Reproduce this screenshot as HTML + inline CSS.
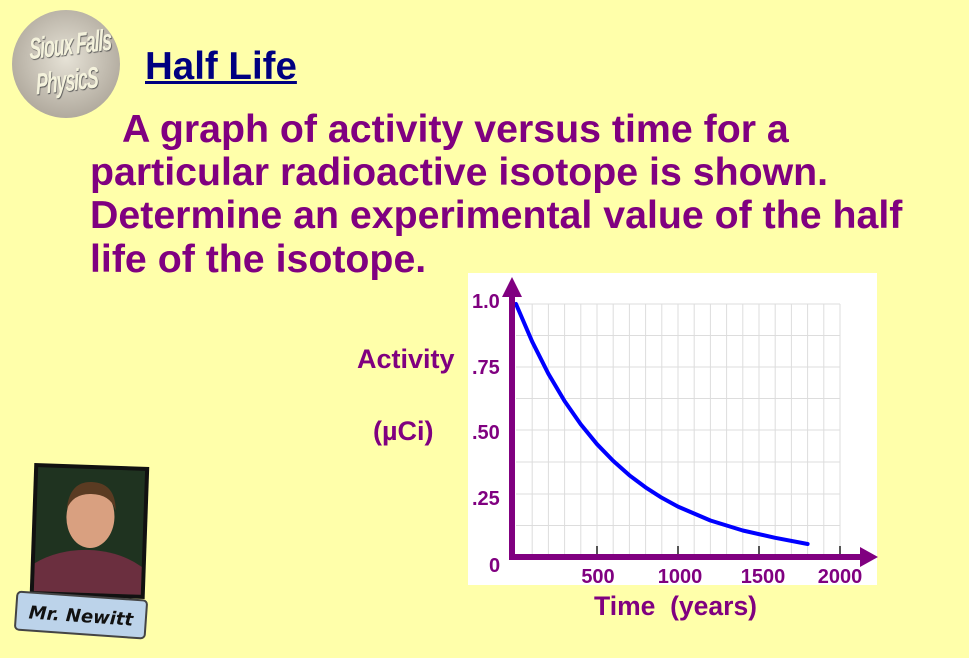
<!DOCTYPE html>
<html><head><meta charset="utf-8"><style>
body{margin:0;width:969px;height:658px;background:#FFFFAA;position:relative;overflow:hidden;font-family:"Liberation Sans",Arial,sans-serif;font-weight:bold}
.t{position:absolute;color:#800080;font-size:39.3px;white-space:nowrap;line-height:1}
</style></head><body>
<div style="position:absolute;left:12px;top:10px;width:108px;height:108px;border-radius:50%;background:radial-gradient(circle at 50% 45%,#e6e2d6,#9e968a);"></div>
<div style="position:absolute;left:6px;top:28px;width:120px;text-align:center;color:#f4f2dc;font-size:30px;line-height:36px;font-style:italic;text-shadow:1px 1px 1px #555;letter-spacing:-2px;transform:scaleX(0.6) rotate(-4deg);white-space:nowrap">Sioux Falls<br>PhysicS</div>
<div style="position:absolute;left:145px;top:46px;color:#000080;font-size:38.5px;text-decoration:underline;line-height:1.1">Half Life</div>
<div class="t" style="left:122px;top:110px">A graph of activity versus time for a</div>
<div class="t" style="left:90px;top:153px">particular radioactive isotope is shown.</div>
<div class="t" style="left:90px;top:196px">Determine an experimental value of the half</div>
<div class="t" style="left:90px;top:240px">life of the isotope.</div>
<div class="t" style="left:357px;top:346px;font-size:27px">Activity</div>
<div class="t" style="left:373px;top:418px;font-size:27px">(µCi)</div>
<div class="t" style="left:594px;top:593px;font-size:26.5px">Time&nbsp; (years)</div>
<svg style="position:absolute;left:0;top:0" width="969" height="658">
<rect x="468" y="273" width="409" height="312" fill="#fff"/>
<g stroke="#ddd" stroke-width="1">
<line x1="516" y1="304" x2="840" y2="304"/><line x1="516" y1="335.5" x2="840" y2="335.5"/><line x1="516" y1="367" x2="840" y2="367"/><line x1="516" y1="398.5" x2="840" y2="398.5"/><line x1="516" y1="430" x2="840" y2="430"/><line x1="516" y1="462" x2="840" y2="462"/><line x1="516" y1="494" x2="840" y2="494"/><line x1="516" y1="525.5" x2="840" y2="525.5"/>
<line x1="532.2" y1="304" x2="532.2" y2="557"/><line x1="548.4" y1="304" x2="548.4" y2="557"/><line x1="564.6" y1="304" x2="564.6" y2="557"/><line x1="580.8" y1="304" x2="580.8" y2="557"/><line x1="597" y1="304" x2="597" y2="557"/><line x1="613.2" y1="304" x2="613.2" y2="557"/><line x1="629.4" y1="304" x2="629.4" y2="557"/><line x1="645.6" y1="304" x2="645.6" y2="557"/><line x1="661.8" y1="304" x2="661.8" y2="557"/><line x1="678" y1="304" x2="678" y2="557"/><line x1="694.2" y1="304" x2="694.2" y2="557"/><line x1="710.4" y1="304" x2="710.4" y2="557"/><line x1="726.6" y1="304" x2="726.6" y2="557"/><line x1="742.8" y1="304" x2="742.8" y2="557"/><line x1="759" y1="304" x2="759" y2="557"/><line x1="775.2" y1="304" x2="775.2" y2="557"/><line x1="791.4" y1="304" x2="791.4" y2="557"/><line x1="807.6" y1="304" x2="807.6" y2="557"/><line x1="823.8" y1="304" x2="823.8" y2="557"/><line x1="840" y1="304" x2="840" y2="557"/>
</g>
<g stroke="#555" stroke-width="2"><line x1="597" y1="546" x2="597" y2="557"/><line x1="678" y1="546" x2="678" y2="557"/><line x1="759" y1="546" x2="759" y2="557"/><line x1="840" y1="546" x2="840" y2="557"/></g>
<polyline fill="none" stroke="#0000ff" stroke-width="4" stroke-linecap="round" stroke-linejoin="round" points="516,304 532.2,341.7 548.4,373.8 564.6,401.1 580.8,424.4 597,444.2 613.2,460.9 629.4,475.3 645.6,487.4 661.8,497.8 678,506.6 710.4,520.5 742.8,530.5 775.2,537.8 807.6,544"/>
<line x1="512" y1="292" x2="512" y2="559" stroke="#800080" stroke-width="6"/>
<line x1="509" y1="557" x2="866" y2="557" stroke="#800080" stroke-width="6"/>
<polygon points="512,277 502,297 522,297" fill="#800080"/>
<polygon points="878,557 860,547 860,567" fill="#800080"/>
<g fill="#800080" font-family="Liberation Sans,Arial,sans-serif" font-weight="bold" font-size="20">
<text x="472" y="308">1.0</text><text x="472" y="374">.75</text><text x="472" y="439">.50</text><text x="472" y="505">.25</text><text x="489" y="572">0</text>
<text x="598" y="583" text-anchor="middle">500</text><text x="680" y="583" text-anchor="middle">1000</text><text x="763" y="583" text-anchor="middle">1500</text><text x="840" y="583" text-anchor="middle">2000</text>
</g>
<g transform="rotate(2 90 530)">
<rect x="32" y="465" width="115" height="132" fill="#111"/>
<rect x="36" y="469" width="107" height="124" fill="#1f3320"/>
<path d="M36 593 L36 565 Q60 550 90 550 Q120 550 143 565 L143 593Z" fill="#6b2f3f"/>
<ellipse cx="90" cy="517" rx="24" ry="31" fill="#d9a080"/>
<path d="M66 510 Q68 482 90 482 Q114 482 115 510 Q110 494 90 494 Q72 494 66 510Z" fill="#5a3b22"/>
</g>
<g transform="rotate(4 80 615)">
<rect x="16" y="596" width="130" height="38" rx="4" fill="#bcd3ea" stroke="#444" stroke-width="2"/>
<text x="81" y="622" text-anchor="middle" font-family="DejaVu Sans,sans-serif" font-style="italic" font-weight="bold" font-size="18" fill="#111">Mr. Newitt</text>
</g>
</svg>
</body></html>
